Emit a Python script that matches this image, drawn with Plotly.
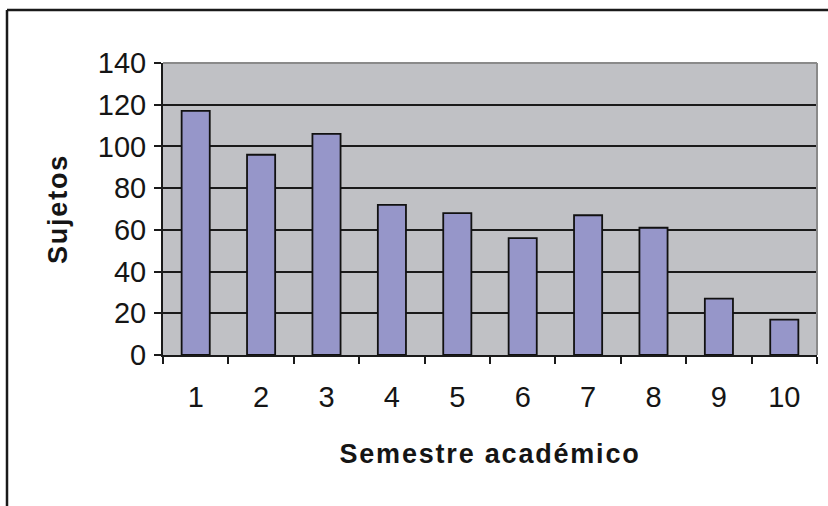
import plotly.graph_objects as go

# Number of subjects per academic semester
semestres = ["1", "2", "3", "4", "5", "6", "7", "8", "9", "10"]
sujetos = [117, 96, 106, 72, 68, 56, 67, 61, 27, 17]
y_ticks = [0, 20, 40, 60, 80, 100, 120, 140]

W, H = 828, 506
ML, MR, MT, MB = 163, 11, 63, 151
pw, ph = W - ML - MR, H - MT - MB

fig = go.Figure(
    go.Bar(
        x=semestres,
        y=sujetos,
        marker=dict(color="#9696c9", line=dict(color="#111111", width=1.8)),
    )
)

# outer frame (only top and left edges fall inside the page)
fx0 = (7 - ML) / pw
fy1 = 1 + (MT - 10) / ph
fig.add_shape(type="line", xref="paper", yref="paper", x0=fx0, x1=1.2, y0=fy1, y1=fy1,
              line=dict(color="#1a1a1a", width=2.5))
fig.add_shape(type="line", xref="paper", yref="paper", x0=fx0, x1=fx0, y0=fy1, y1=-1,
              line=dict(color="#1a1a1a", width=2.5))
# grey border on top and right of the plot area
fig.add_shape(type="line", xref="paper", yref="paper", x0=0, x1=1, y0=1, y1=1,
              line=dict(color="#8a8a8a", width=2))
fig.add_shape(type="line", xref="paper", yref="paper", x0=1, x1=1, y0=0, y1=1,
              line=dict(color="#8a8a8a", width=2))

fig.update_layout(
    width=W, height=H,
    margin=dict(l=ML, r=MR, t=MT, b=MB),
    paper_bgcolor="white",
    plot_bgcolor="#c0c1c5",
    bargap=0.57,
    showlegend=False,
    font=dict(family="Liberation Sans, Arial, sans-serif", color="#151515"),
    xaxis=dict(
        type="category",
        tickson="boundaries",
        ticks="outside", ticklen=7, tickwidth=1.8, tickcolor="#1a1a1a",
        showline=True, linecolor="#1a1a1a", linewidth=2,
        showgrid=False,
        tickfont=dict(size=29),
        ticklabelstandoff=15,
        title=dict(text="Semestre académico", font=dict(size=27, weight="bold"), standoff=32),
    ),
    yaxis=dict(
        range=[0, 140],
        tickvals=y_ticks,
        ticks="outside", ticklen=7, tickwidth=1.8, tickcolor="#1a1a1a",
        showline=True, linecolor="#1a1a1a", linewidth=2,
        showgrid=True, gridcolor="#1a1a1a", gridwidth=1.6,
        zeroline=False,
        tickfont=dict(size=29),
        ticklabelstandoff=2,
        title=dict(text="Sujetos", font=dict(size=27, weight="bold"), standoff=22),
    ),
)

# axis titles are set with a little letter spacing
spacing_js = (
    "document.querySelectorAll('.xtitle, .ytitle')"
    ".forEach(function(t){t.style.letterSpacing='1.8px';});"
)

fig.write_html("out.html", post_script=spacing_js)
